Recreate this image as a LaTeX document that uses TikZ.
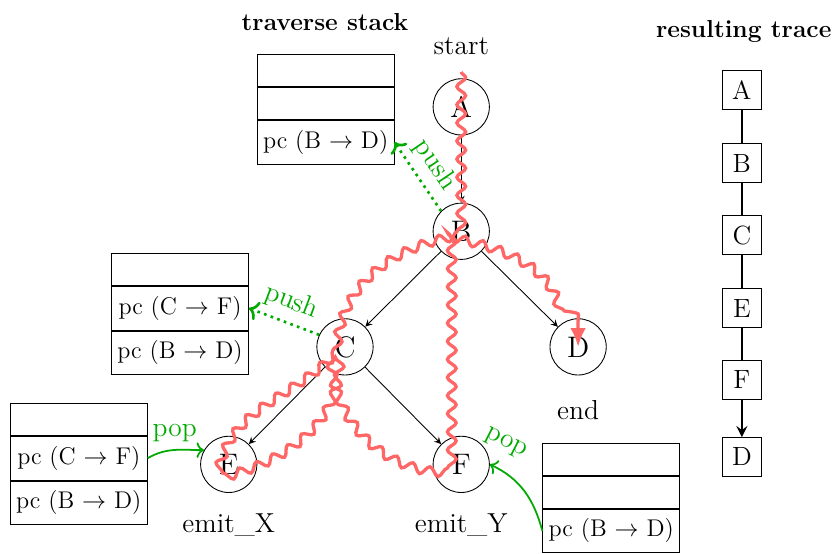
\documentclass[tikz,border=0pt]{standalone}
\usetikzlibrary{positioning,decorations.pathmorphing,arrows.meta}
\definecolor{pushgreen}{RGB}{0,170,0}
\definecolor{tracered}{RGB}{255,102,102}

\begin{document}
\begin{tikzpicture}[
  font=\fontsize{12.5}{15}\selectfont,
  state/.style={circle,draw,minimum size=0.9cm,inner sep=0pt,font=\fontsize{13.5}{16}\selectfont},
  slot/.style={draw,minimum width=2.19cm,minimum height=0.51cm,inner sep=0pt,font=\fontsize{11}{13}\selectfont},
  pcslot/.style={slot,minimum height=0.70cm},
  tracebox/.style={draw,minimum size=0.62cm,inner sep=0pt,font=\fontsize{12}{14}\selectfont},
  title/.style={font=\fontsize{11.2}{14}\selectfont\bfseries},
  edge/.style={-stealth},
  pushline/.style={->,dotted,very thick,pushgreen},
  popline/.style={->,thick,pushgreen},
  walk/.style={tracered,line width=1.5pt,decorate,
    decoration={snake,segment length=0.29cm,amplitude=0.07cm,post length=4mm}}
]
  \useasboundingbox (0,0) rectangle (13.44,8.85);

  % Control flow graph
  \node[state] (A) at (7.38,7.14) {A};
  \node[state] (B) at (7.38,5.15) {B};
  \node[state] (C) at (5.52,3.30) {C};
  \node[state] (D) at (9.25,3.30) {D};
  \node[state] (E) at (3.66,1.42) {E};
  \node[state] (F) at (7.38,1.42) {F};

  \draw[edge] (A) -- (B);
  \draw[edge] (B) -- (C);
  \draw[edge] (B) -- (D);
  \draw[edge] (C) -- (E);
  \draw[edge] (C) -- (F);

  % Labels
  \node (startlbl) at (7.38,8.11) {start};
  \node (endlbl) at (9.25,2.29) {end};
  \node (emitx) at (3.66,0.45) {emit\_X};
  \node (emity) at (7.38,0.45) {emit\_Y};
  \node[title] (stacktitle) at (5.2,8.50) {traverse stack};
  \node[title] (tracetitle) at (11.9,8.34) {resulting trace};

  % Stack after A -> B
  \node[slot,anchor=north] (s1a) at (5.21,7.98) {};
  \node[slot,below=0pt of s1a] (s1b) {};
  \node[pcslot,below=0pt of s1b] (s1c) {pc (B $\rightarrow$ D)};

  % Stack after C
  \node[slot,anchor=north] (s2a) at (2.88,4.80) {};
  \node[pcslot,below=0pt of s2a] (s2b) {pc (C $\rightarrow$ F)};
  \node[pcslot,below=0pt of s2b] (s2c) {pc (B $\rightarrow$ D)};

  % Stack at E
  \node[slot,anchor=north] (s3a) at (1.26,2.40) {};
  \node[pcslot,below=0pt of s3a] (s3b) {pc (C $\rightarrow$ F)};
  \node[pcslot,below=0pt of s3b] (s3c) {pc (B $\rightarrow$ D)};

  % Stack at F
  \node[slot,anchor=north] (s4a) at (9.78,1.76) {};
  \node[slot,below=0pt of s4a] (s4b) {};
  \node[pcslot,below=0pt of s4b] (s4c) {pc (B $\rightarrow$ D)};

  % Push and pop
  \draw[pushline] (B.135) -- node[above,sloped] {push} (s1c.east);
  \draw[pushline] (C.155) -- node[above,sloped] {push} (s2b.east);
  \draw[popline] (s3b.east) to[out=30,in=180] node[above] {pop} (E.150);
  \draw[popline] (s4c.west) to[out=105,in=-25] node[pos=0.95,above=4pt,sloped] {pop} (F.east);

  % Traversal walk
  \coordinate (walkstart) at (7.38,7.70);
  \draw[walk,-{Latex[length=3mm,width=2.5mm]}] (walkstart) -- (A.center) -- (B.center)
    to[out=190,in=90] (C.center) to[out=225,in=80] (E.center)
    to[out=15,in=-90] (C.center) to[out=-90,in=180] (F.center)
    -- (B.center) to[out=-10,in=90] (D.north) -- (D.center);

  % Resulting trace
  \node[tracebox] (tA) at (11.87,7.41) {A};
  \node[tracebox] (tB) at (11.87,6.24) {B};
  \node[tracebox] (tC) at (11.87,5.09) {C};
  \node[tracebox] (tE) at (11.87,3.92) {E};
  \node[tracebox] (tF) at (11.87,2.77) {F};
  \node[tracebox] (tD) at (11.87,1.54) {D};

  \draw[very thick] (tA) -- (tB);
  \draw[very thick] (tB) -- (tC);
  \draw[very thick] (tC) -- (tE);
  \draw[very thick] (tE) -- (tF);
  \draw[very thick,-stealth] (tF) -- (tD);
\end{tikzpicture}
\end{document}
